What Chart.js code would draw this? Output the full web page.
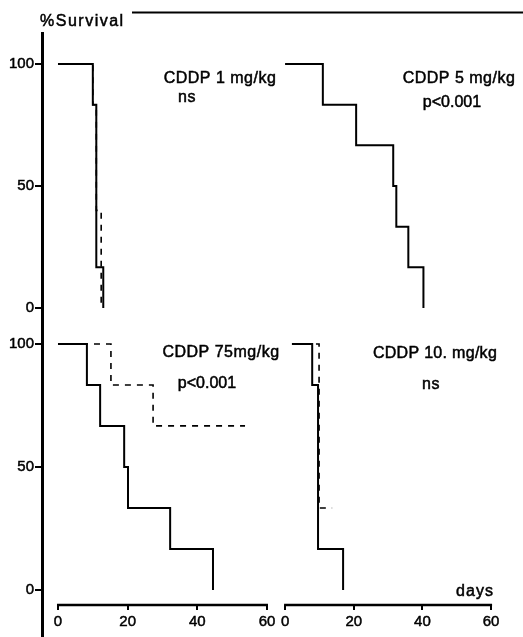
<!DOCTYPE html>
<html>
<head>
<meta charset="utf-8">
<script src="https://cdn.jsdelivr.net/npm/chart.js@4.4.1/dist/chart.umd.min.js"></script>
<style>
  html, body { margin: 0; padding: 0; background: #fff; }
  canvas { display: block; }
</style>
</head>
<body>
<canvas id="surv" width="523" height="637"></canvas>
<script>
// Kaplan-Meier survival (%) after CDDP at four doses.
// Solid line = CDDP-treated group, dashed line = comparison group.
const dayTicks = [0, 20, 40, 60];
const survivalTicks = [0, 50, 100];

// CDDP 1 mg/kg
const dose1Days = [0, 10, 11, 13];
const dose1Surv = [100, 83.3, 16.7, 0];
const dose1RefDays = [0, 10, 11, 12.4];
const dose1RefSurv = [100, 83.3, 40, 0];

// CDDP 5 mg/kg
const dose5Days = [0, 11, 20.7, 31.5, 32.4, 35.9, 40.3];
const dose5Surv = [100, 83.3, 66.7, 50, 33.3, 16.7, 0];

// CDDP 7.5 mg/kg
const dose75Days = [0, 8.3, 12.1, 19, 20.1, 32.2, 44.5];
const dose75Surv = [100, 83.3, 66.7, 50, 33.3, 16.7, 0];
const dose75RefDays = [0, 15.2, 27.3, 53.7];
const dose75RefSurv = [100, 83.3, 66.7, 66.7];

// CDDP 10 mg/kg
const dose10Days = [2, 7.9, 9.6, 16.9];
const dose10Surv = [100, 83.3, 16.7, 0];
const dose10RefDays = [2, 9.9, 13.7];
const dose10RefSurv = [100, 33.3, 33.3];

// Panel captions
const panelTitles = ['CDDP 1 mg/kg', 'CDDP 5 mg/kg', 'CDDP 75mg/kg', 'CDDP 10. mg/kg'];
const panelStats = ['ns', 'p<0.001', 'p<0.001', 'ns'];

const FONT = '"Liberation Sans", Arial, sans-serif';
const INK = '#000';

function steps(days, surv) {
  return days.map((d, i) => ({ x: d, y: surv[i] }));
}

function curve(days, surv, xAxisID, yAxisID, dashed) {
  return {
    data: steps(days, surv),
    xAxisID, yAxisID,
    showLine: true,
    stepped: true,
    borderColor: INK,
    borderWidth: dashed ? 1.6 : 2,
    borderDash: dashed ? [6, 6] : [],
    pointRadius: 0,
    fill: false
  };
}

function fixedTicks(values) {
  return scale => { scale.ticks = values.map(v => ({ value: v })); };
}

function noPad(width) {
  return scale => {
    if (width !== undefined) scale.width = width;
    scale.paddingTop = 0; scale.paddingBottom = 0;
    scale.paddingLeft = 0; scale.paddingRight = 0;
  };
}

// value of the lower survival scale where the day axes sit
const dayAxisLevel = -6.1;

const tickFont = { family: FONT, size: 15 };

function dayAxis(min, max) {
  return {
    type: 'linear',
    min, max,
    position: { yB: dayAxisLevel },
    afterBuildTicks: fixedTicks(dayTicks),
    afterFit: noPad(),
    border: { display: false },
    grid: { drawOnChartArea: false, drawTicks: true, tickLength: 5, color: INK, lineWidth: 2 },
    ticks: { color: INK, font: tickFont, padding: 3, maxRotation: 0, autoSkip: false,
             textStrokeColor: INK, textStrokeWidth: 0.5 }
  };
}

function survAxis(min, max, stackWeight, weight) {
  return {
    type: 'linear',
    min, max,
    position: 'left',
    stack: 'survival',
    stackWeight,
    weight,
    afterBuildTicks: fixedTicks(survivalTicks),
    afterFit: noPad(42),
    border: { display: true, width: 3, color: INK },
    grid: { drawOnChartArea: false, drawTicks: true, tickLength: 7, color: INK, lineWidth: 2 },
    ticks: { color: INK, font: tickFont, padding: 1, textStrokeColor: INK, textStrokeWidth: 0.5 }
  };
}

// Axis lines for the day scales, captions and the heading rule
const decor = {
  id: 'decor',
  afterDraw(chart) {
    const ctx = chart.ctx;
    const yB = chart.scales.yB;
    const yLine = yB.getPixelForValue(dayAxisLevel);
    ctx.save();
    ctx.strokeStyle = INK;
    ctx.fillStyle = INK;
    ctx.lineWidth = 2.5;
    ['xL', 'xR'].forEach(id => {
      const s = chart.scales[id];
      ctx.beginPath();
      ctx.moveTo(s.getPixelForValue(dayTicks[0]) - 1, yLine);
      ctx.lineTo(s.getPixelForValue(dayTicks[dayTicks.length - 1]) + 1, yLine);
      ctx.stroke();
    });

    // heading rule
    ctx.lineWidth = 2;
    ctx.beginPath();
    ctx.moveTo(132, 12.5);
    ctx.lineTo(523, 12.5);
    ctx.stroke();

    const text = (str, x, y, size, align, spacing) => {
      ctx.font = size + 'px ' + FONT;
      ctx.textAlign = align;
      ctx.textBaseline = 'alphabetic';
      ctx.letterSpacing = (spacing || 0) + 'px';
      ctx.lineWidth = 0.5;
      ctx.strokeText(str, x, y);
      ctx.fillText(str, x, y);
    };

    text('%Survival', 40, 26, 16, 'left', 1.5);
    text('days', 475, 596, 16, 'center', 1);

    text(panelTitles[0], 220, 83, 16, 'center', 0.5);
    text(panelStats[0], 187, 102, 16, 'center', 0.5);
    text(panelTitles[1], 459, 83, 16, 'center', 0.5);
    text(panelStats[1], 452, 107, 16, 'center', 0);
    text(panelTitles[2], 221, 357, 16, 'center', 0.5);
    text(panelStats[2], 207, 388, 16, 'center', 0);
    text(panelTitles[3], 435, 358, 16, 'center', 0.3);
    text(panelStats[3], 431, 389, 16, 'center', 0.5);
    ctx.restore();
  }
};

new Chart(document.getElementById('surv'), {
  type: 'scatter',
  data: {
    datasets: [
      curve(dose1Days, dose1Surv, 'xL', 'yT', false),
      curve(dose1RefDays, dose1RefSurv, 'xL', 'yT', true),
      curve(dose5Days, dose5Surv, 'xR', 'yT', false),
      curve(dose75Days, dose75Surv, 'xL', 'yB', false),
      curve(dose75RefDays, dose75RefSurv, 'xL', 'yB', true),
      curve(dose10Days, dose10Surv, 'xR', 'yB', false),
      curve(dose10RefDays, dose10RefSurv, 'xR', 'yB', true)
    ]
  },
  options: {
    responsive: false,
    animation: false,
    devicePixelRatio: 1,
    layout: { padding: { top: 33, left: 0, right: 0, bottom: 0 } },
    plugins: { legend: { display: false }, tooltip: { enabled: false } },
    scales: {
      yT: survAxis(-7.4, 112.7, 293, 1),
      yB: survAxis(-19.1, 107.3, 311, 0),
      xL: dayAxis(-4.59, 133.5),
      xR: dayAxis(-70.8, 69.3)
    }
  },
  plugins: [decor]
});
</script>
</body>
</html>
